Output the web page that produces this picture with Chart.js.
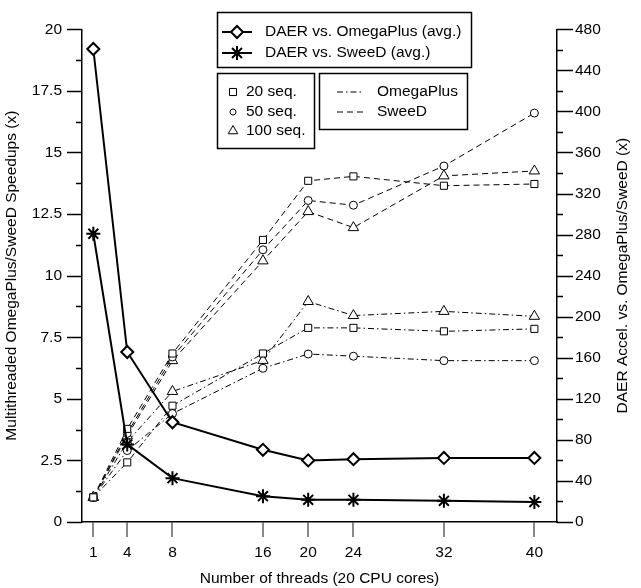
<html>
<head>
<meta charset="utf-8">
<title>DAER speedups</title>
<script src="https://cdn.jsdelivr.net/npm/chart.js@4.4.1/dist/chart.umd.min.js"></script>
<style>
  body { margin: 0; background: #fff; }
  #wrap { width: 641px; height: 588px; position: relative; }
</style>
</head>
<body>
<div id="wrap"><canvas id="grafica" width="641" height="588"></canvas></div>
<script>
// x values (threads)
var threads = [1, 4, 8, 16, 20, 24, 32, 40];

// DAER accel (avg.) - solid lines
var daerOmega = [19.2, 6.9, 4.05, 2.93, 2.5, 2.55, 2.6, 2.6];
var daerSweed = [11.7, 3.15, 1.78, 1.05, 0.9, 0.9, 0.86, 0.81];

// SweeD multithreaded speedups - dashed
var sweed20 = [1, 3.78, 6.84, 11.45, 13.85, 14.03, 13.65, 13.72];
var sweed50 = [1, 3.6, 6.7, 11.05, 13.05, 12.86, 14.45, 16.6];
var sweed100 = [1, 3.5, 6.55, 10.6, 12.6, 11.95, 14.05, 14.25];

// OmegaPlus multithreaded speedups - dash-dot
var omega20 = [1, 2.42, 4.72, 6.84, 7.88, 7.88, 7.74, 7.84];
var omega50 = [1, 2.9, 4.4, 6.24, 6.82, 6.73, 6.55, 6.55];
var omega100 = [1, 3.25, 5.3, 6.56, 8.95, 8.38, 8.55, 8.35];

var leftTicks = [0, 2.5, 5, 7.5, 10, 12.5, 15, 17.5, 20];
var rightTicks = [0, 40, 80, 120, 160, 200, 240, 280, 320, 360, 400, 440, 480];

var FONT = 'Liberation Sans, Arial, Helvetica, sans-serif';
var DASH = [6, 4];
var DASHDOT = [6, 3, 1.5, 3];

var puntos = (arr) => threads.map((t, i) => ({ x: t, y: arr[i] }));

var serie = (label, arr, style, radius, dash, width, bw) => ({
    label: label,
    data: puntos(arr),
    borderColor: '#000',
    backgroundColor: '#fff',
    borderWidth: width,
    borderDash: dash,
    pointStyle: style,
    pointRadius: radius,
    pointBorderColor: '#000',
    pointBackgroundColor: '#fff',
    pointBorderWidth: bw,
    tension: 0,
    yAxisID: 'y'
});

var datasets = [
    serie('DAER vs. OmegaPlus (avg.)', daerOmega, 'rectRot', 6, [], 2, 2),
    serie('DAER vs. SweeD (avg.)', daerSweed, 'star', 7, [], 2, 2),
    serie('SweeD 20 seq.', sweed20, 'rect', 5, DASH, 1, 1),
    serie('SweeD 50 seq.', sweed50, 'circle', 4, DASH, 1, 1),
    serie('SweeD 100 seq.', sweed100, 'triangle', 6, DASH, 1, 1),
    serie('OmegaPlus 20 seq.', omega20, 'rect', 5, DASHDOT, 1, 1),
    serie('OmegaPlus 50 seq.', omega50, 'circle', 4, DASHDOT, 1, 1),
    serie('OmegaPlus 100 seq.', omega100, 'triangle', 6, DASHDOT, 1, 1)
];

// tick marks for the y axes (major + minor), right title and the legend boxes
var marcas = {
    id: 'marcas',
    afterDraw: (chart) => {
        var ctx = chart.ctx;
        var yl = chart.scales.y, yr = chart.scales.y1;
        ctx.save();
        ctx.strokeStyle = '#000';
        ctx.lineWidth = 1.5;
        for (var v = 0; v <= 20.001; v += 1.25) {
            var p = Math.round(yl.getPixelForValue(v)) + 0.5;
            var major = Math.abs(v / 2.5 - Math.round(v / 2.5)) < 0.01;
            ctx.beginPath();
            ctx.moveTo(yl.right, p);
            ctx.lineTo(yl.right - (major ? 15 : 6), p);
            ctx.stroke();
        }
        for (var w = 0; w <= 480; w += 20) {
            var q = Math.round(yr.getPixelForValue(w)) + 0.5;
            var maj = w % 40 === 0;
            ctx.beginPath();
            ctx.moveTo(yr.left, q);
            ctx.lineTo(yr.left + (maj ? 16 : 6), q);
            ctx.stroke();
        }

        // right axis title, reading bottom to top
        ctx.save();
        ctx.translate(623, (chart.chartArea.top + chart.chartArea.bottom) / 2);
        ctx.rotate(-Math.PI / 2);
        ctx.fillStyle = '#000';
        ctx.font = '15.5px ' + FONT;
        ctx.textAlign = 'center';
        ctx.textBaseline = 'middle';
        ctx.fillText('DAER Accel. vs. OmegaPlus/SweeD (x)', 0, 0);
        ctx.restore();

        // legend boxes
        var caja = (x1, y1, x2, y2) => {
            ctx.fillStyle = '#fff';
            ctx.fillRect(x1, y1, x2 - x1, y2 - y1);
            ctx.lineWidth = 1.5;
            ctx.setLineDash([]);
            ctx.strokeStyle = '#000';
            ctx.strokeRect(x1 + 0.5, y1 + 0.5, x2 - x1, y2 - y1);
        };
        var texto = (t, x, y) => {
            ctx.fillStyle = '#000';
            ctx.font = '15.5px ' + FONT;
            ctx.textBaseline = 'middle';
            ctx.textAlign = 'left';
            ctx.fillText(t, x, y);
        };
        var linea = (x1, x2, y, dash, w) => {
            ctx.beginPath();
            ctx.setLineDash(dash);
            ctx.lineWidth = w;
            ctx.strokeStyle = '#000';
            ctx.moveTo(x1, y);
            ctx.lineTo(x2, y);
            ctx.stroke();
            ctx.setLineDash([]);
        };
        var marca = (style, x, y, r, bw) => {
            ctx.lineWidth = bw;
            ctx.strokeStyle = '#000';
            ctx.fillStyle = '#fff';
            Chart.helpers.drawPoint(ctx, { pointStyle: style, radius: r, borderWidth: bw }, x, y);
        };

        caja(217, 12, 471, 67);
        linea(222, 252, 32, [], 2);
        marca('rectRot', 237, 32, 6, 2);
        texto('DAER vs. OmegaPlus (avg.)', 265, 32);
        linea(222, 252, 53, [], 2);
        marca('star', 237, 53, 7, 2);
        texto('DAER vs. SweeD (avg.)', 265, 53);

        caja(217, 73, 314, 148);
        marca('rect', 233, 92, 5, 1);
        texto('20 seq.', 246, 92);
        marca('circle', 233, 112, 3, 1);
        texto('50 seq.', 246, 112);
        marca('triangle', 233, 131, 5.5, 1);
        texto('100 seq.', 246, 131);

        caja(319, 73, 467, 129);
        linea(337, 364, 92, DASHDOT, 1);
        texto('OmegaPlus', 377, 92);
        linea(337, 364, 112, DASH, 1);
        texto('SweeD', 377, 112);
        ctx.restore();
    }
};

var contenedor = document.getElementById('grafica');
var grafica = new Chart(contenedor, {
    type: 'line',
    data: { datasets: datasets },
    plugins: [marcas],
    options: {
        responsive: false,
        animation: false,
        layout: { padding: { top: 12, left: 0, right: 0, bottom: 0 } },
        plugins: { legend: { display: false }, tooltip: { enabled: false } },
        scales: {
            x: {
                type: 'linear',
                min: 0,
                max: 42,
                afterBuildTicks: (s) => { s.ticks = threads.map((t) => ({ value: t })); },
                afterFit: (s) => { s.height = 66; },
                border: { display: true, color: '#000', width: 1.5 },
                grid: { drawOnChartArea: false, drawTicks: true, tickLength: 15, color: '#888', lineWidth: 2 },
                ticks: { color: '#000', padding: 6, maxRotation: 0, autoSkip: false, font: { family: FONT, size: 15.5 } },
                title: { display: true, text: 'Number of threads (20 CPU cores)', color: '#000', padding: { top: 0, bottom: 0 }, font: { family: FONT, size: 15.5 } }
            },
            y: {
                position: 'left',
                min: 0,
                max: 20,
                afterBuildTicks: (s) => { s.ticks = leftTicks.map((t) => ({ value: t })); },
                afterFit: (s) => { s.width = 82; },
                border: { display: true, color: '#000', width: 1.5 },
                grid: { display: true, drawOnChartArea: false, drawTicks: false },
                ticks: { color: '#000', padding: 20, font: { family: FONT, size: 15.5 } },
                title: { display: true, text: 'Multithreaded OmegaPlus/SweeD Speedups (x)', color: '#000', padding: { top: 2, bottom: 0 }, font: { family: FONT, size: 15.5 } }
            },
            y1: {
                position: 'right',
                min: 0,
                max: 480,
                afterBuildTicks: (s) => { s.ticks = rightTicks.map((t) => ({ value: t })); },
                afterFit: (s) => { s.width = 84; },
                border: { display: true, color: '#000', width: 1.5 },
                grid: { display: true, drawOnChartArea: false, drawTicks: false },
                ticks: { color: '#000', padding: 18, font: { family: FONT, size: 15.5 } },
                title: { display: false }
            }
        }
    }
});
</script>
</body>
</html>
